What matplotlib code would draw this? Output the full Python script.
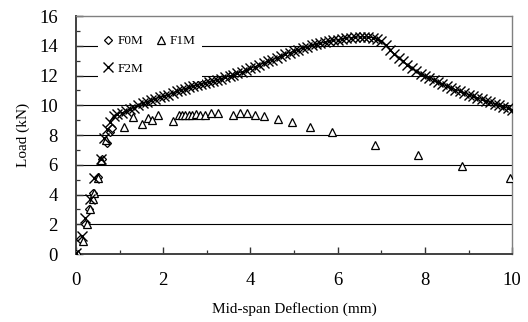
import matplotlib
matplotlib.use("Agg")
import matplotlib.pyplot as plt
from matplotlib.ticker import MultipleLocator

plt.rcParams['font.family'] = ['Liberation Serif', 'DejaVu Serif']

# F0M (diamonds)
f0m_x = [0.0, 0.09, 0.20, 0.30, 0.40, 0.50, 0.60, 0.72, 0.78, 0.82]
f0m_y = [0.0, 1.0, 2.0, 3.0, 4.1, 5.2, 6.4, 7.5, 8.2, 8.5]

# F1M (triangles)
f1m_x = [0.05, 0.15, 0.25, 0.32, 0.38, 0.42, 0.50, 0.57, 0.68, 1.09, 1.31, 1.51, 1.66, 1.74, 1.89,
         2.22, 2.35, 2.42, 2.50, 2.58, 2.65, 2.75, 2.85, 2.95, 3.10, 3.26, 3.61, 3.76, 3.91,
         4.10, 4.31, 4.64, 4.96, 5.37, 5.88, 6.86, 7.83, 8.86, 9.94]
f1m_y = [0.0, 0.9, 2.0, 3.0, 3.7, 4.1, 5.1, 6.3, 7.7, 8.56, 9.23, 8.74, 9.12, 9.0, 9.34,
         8.96, 9.34, 9.38, 9.35, 9.38, 9.36, 9.40, 9.38, 9.32, 9.48, 9.48, 9.34, 9.46, 9.5,
         9.34, 9.28, 9.05, 8.85, 8.56, 8.18, 7.30, 6.66, 5.92, 5.13]

# F2M (crosses)
f2m_x = [0.0, 0.13, 0.21, 0.32, 0.41, 0.57, 0.63, 0.72, 0.78, 0.86, 0.95, 1.05, 1.15, 1.24,
         1.33, 1.42, 1.54, 1.62, 1.72, 1.82, 1.93, 2.02, 2.12, 2.22, 2.31, 2.40, 2.50, 2.60,
         2.68, 2.77, 2.86, 2.96, 3.05, 3.14, 3.23, 3.33, 3.42, 3.52, 3.60, 3.70, 3.80, 3.90,
         4.00, 4.10, 4.20, 4.30, 4.40, 4.50, 4.60, 4.70, 4.80, 4.90, 5.00, 5.10, 5.20, 5.30,
         5.40, 5.50, 5.60, 5.70, 5.80, 5.90, 6.00, 6.10, 6.20, 6.30, 6.40, 6.50, 6.60, 6.70,
         6.80, 6.90, 7.00, 7.10, 7.20, 7.30, 7.40, 7.50, 7.60, 7.70, 7.80, 7.90, 8.00, 8.10,
         8.20, 8.30, 8.40, 8.50, 8.60, 8.70, 8.80, 8.90, 9.00, 9.10, 9.20, 9.30, 9.40, 9.50,
         9.60, 9.70, 9.80, 9.90, 10.00]
f2m_y = [0.1, 1.2, 2.4, 3.7, 5.1, 6.4, 7.8, 8.4, 8.9, 9.3, 9.45, 9.5, 9.6, 9.75,
         9.85, 10.0, 10.15, 10.25, 10.35, 10.45, 10.55, 10.62, 10.72, 10.85, 10.95, 11.05, 11.12, 11.2,
         11.28, 11.38, 11.45, 11.52, 11.58, 11.65, 11.72, 11.8, 11.88, 11.97, 12.05, 12.15, 12.25, 12.35,
         12.48, 12.6, 12.72, 12.85, 12.97, 13.08, 13.2, 13.32, 13.45, 13.55, 13.65, 13.75, 13.85, 13.95,
         14.03, 14.1, 14.17, 14.24, 14.3, 14.36, 14.42, 14.47, 14.52, 14.55, 14.58, 14.6, 14.6, 14.58,
         14.55, 14.45, 14.3, 14.05, 13.75, 13.45, 13.2, 12.95, 12.72, 12.5, 12.3, 12.12, 11.98, 11.85,
         11.7, 11.55, 11.42, 11.3, 11.18, 11.06, 10.95, 10.84, 10.72, 10.6, 10.5, 10.4, 10.3, 10.2,
         10.1, 10.0, 9.9, 9.8, 9.7]

fig = plt.figure(figsize=(5.28, 3.22), dpi=100)
ax = fig.add_axes([0.144, 0.211, 0.826, 0.739])

for g in range(2, 16, 2):
    ax.axhline(g, color='black', lw=0.8, zorder=1)

h0, = ax.plot(f0m_x, f0m_y, linestyle='none', marker='D', ms=4.5, mfc='white', mec='black', mew=0.9,
              label='F0M', zorder=3)
h1, = ax.plot(f1m_x, f1m_y, linestyle='none', marker='^', ms=6, mfc='white', mec='black', mew=0.9,
              label='F1M', zorder=3)
ax.plot(f2m_x[8:], f2m_y[8:], color='black', lw=0.8, zorder=4)
h2, = ax.plot(f2m_x, f2m_y, linestyle='none', marker='x', ms=7, mec='black', mew=1.0,
              label='F2M', zorder=4)

ax.set_xlim(0, 10)
ax.set_ylim(0, 16)
ax.xaxis.set_major_locator(MultipleLocator(2))
ax.xaxis.set_minor_locator(MultipleLocator(1))
ax.yaxis.set_major_locator(MultipleLocator(2))
ax.yaxis.set_minor_locator(MultipleLocator(1))
ax.tick_params(axis='both', which='major', direction='in', length=5, width=1, labelsize=13.5, pad=13,
               color='#333333')
ax.tick_params(axis='both', which='minor', direction='in', length=3, width=0.9, color='#333333')

for s in ['left', 'bottom']:
    ax.spines[s].set_color('#404040')
    ax.spines[s].set_linewidth(1.4)
for s in ['top', 'right']:
    ax.spines[s].set_color('#808080')
    ax.spines[s].set_linewidth(1.0)

ax.set_xlabel('Mid-span Deflection (mm)', fontsize=11, labelpad=9)
ax.set_ylabel('Load (kN)', fontsize=11, labelpad=7)

leg = ax.legend(handles=[h0, h2, h1], labels=['F0M', 'F2M', 'F1M'], ncol=2, loc='upper left',
                bbox_to_anchor=(0.035, 0.975), fontsize=9.5, frameon=True, fancybox=False,
                edgecolor='none', facecolor='white', framealpha=1, labelspacing=1.15,
                handlelength=0.6, handletextpad=0.4, columnspacing=1.0, borderpad=0.5)
leg.set_zorder(5)

fig.savefig('out.png', dpi=100)
